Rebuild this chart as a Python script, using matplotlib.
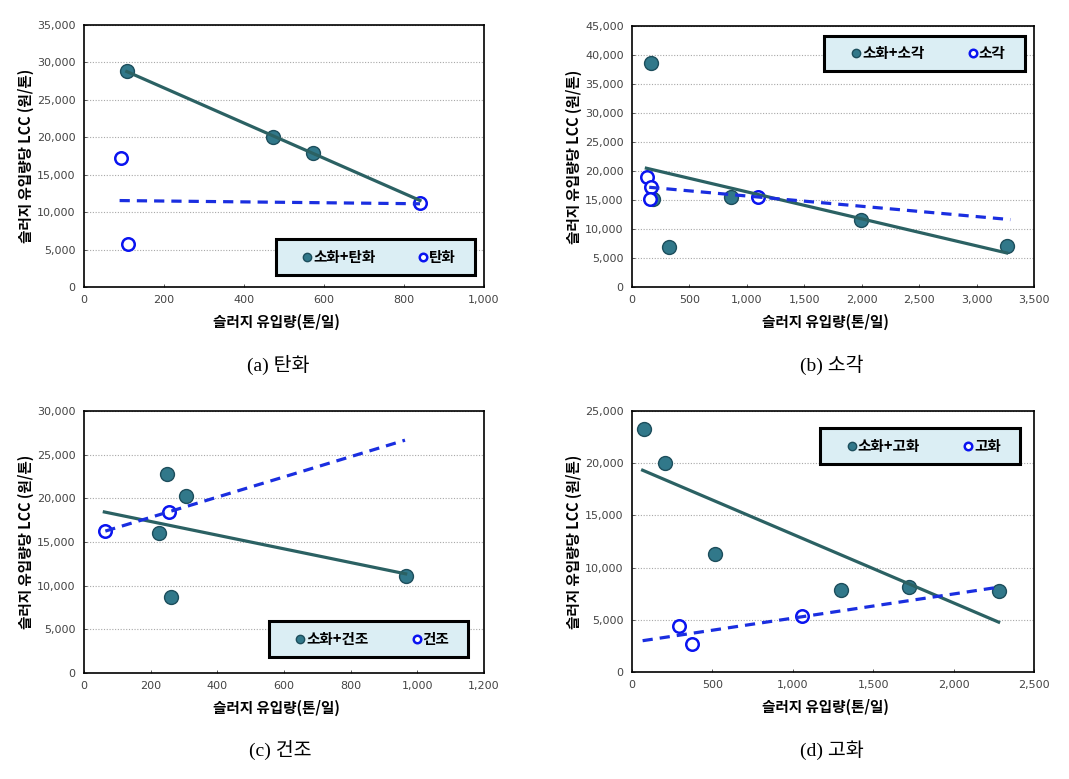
import numpy as np
import matplotlib
matplotlib.use("Agg")
import matplotlib.pyplot as plt
from matplotlib.patches import Rectangle
from matplotlib.ticker import FuncFormatter, MultipleLocator

# ---------------- data ----------------
captions = ["(a) 탄화", "(b) 소각", "(c) 건조", "(d) 고화"]
filled_labels = ["소화+탄화", "소화+소각", "소화+건조", "소화+고화"]
open_labels = ["탄화", "소각", "건조", "고화"]

# (a) 탄화
a_filled_x = [107, 473, 573]
a_filled_y = [28800, 20100, 17900]
a_open_x = [93, 110, 840]
a_open_y = [17200, 5750, 11250]
a_filled_trend_range = [107, 840]
a_open_trend_range = [89, 840]

# (b) 소각
b_filled_x = [163, 183, 326, 858, 1990, 3262]
b_filled_y = [38600, 15100, 6950, 15550, 11550, 7060]
b_open_x = [134, 163, 154, 1099]
b_open_y = [19000, 17300, 15250, 15550]
b_filled_trend_range = [125, 3262]
b_open_trend_range = [150, 3294]

# (c) 건조
c_filled_x = [250, 306, 226, 261, 965]
c_filled_y = [22800, 20250, 16000, 8650, 11150]
c_open_x = [64, 254]
c_open_y = [16250, 18450]
c_filled_trend_range = [61, 965]
c_open_trend_range = [64, 963]

# (d) 고화
d_filled_x = [75, 208, 515, 1302, 1721, 2284]
d_filled_y = [23300, 20050, 11350, 7900, 8100, 7750]
d_open_x = [295, 372, 1059]
d_open_y = [4450, 2680, 5400]
d_filled_trend_range = [66, 2280]
d_open_trend_range = [66, 2284]

x_limits = [(0, 1000), (0, 3500), (0, 1200), (0, 2500)]
x_steps = [200, 500, 200, 500]
y_limits = [(0, 35000), (0, 45000), (0, 30000), (0, 25000)]
y_step = 5000

xlabel = "슬러지 유입량(톤/일)"
ylabel = "슬러지 유입량당 LCC (원/톤)"

panels = [
    (a_filled_x, a_filled_y, a_open_x, a_open_y, a_filled_trend_range, a_open_trend_range),
    (b_filled_x, b_filled_y, b_open_x, b_open_y, b_filled_trend_range, b_open_trend_range),
    (c_filled_x, c_filled_y, c_open_x, c_open_y, c_filled_trend_range, c_open_trend_range),
    (d_filled_x, d_filled_y, d_open_x, d_open_y, d_filled_trend_range, d_open_trend_range),
]

# ---------------- layout / style ----------------
plt.rcParams['font.family'] = ['Noto Sans CJK KR', 'DejaVu Sans']
W, H = 1069, 779
fig = plt.figure(figsize=(W / 100, H / 100), dpi=100)

# axes boxes in pixels: left, top, right, bottom
boxes = [(84, 25, 484, 287), (632, 26, 1034, 287),
         (84, 411, 484, 673), (632, 411, 1034, 672)]
# legend rectangles in axes fraction: x0, y0, x1, y1
leg_boxes = [(0.48, 0.046, 0.977, 0.183), (0.478, 0.828, 0.978, 0.962),
             (0.463, 0.061, 0.96, 0.198), (0.468, 0.797, 0.965, 0.935)]
caption_pos = [(278, 365), (832, 365), (280, 750), (832, 750)]

FILL_C = "#31788a"
EDGE_C = "#1d4e5c"
SOLID_C = "#2b6163"
OPEN_C = "#0a14f0"
DASH_C = "#1a2ee0"

fmt = FuncFormatter(lambda v, p: f"{int(round(v)):,}")

for i, (fx, fy, ox, oy, ftr, otr) in enumerate(panels):
    l, t, r, b = boxes[i]
    ax = fig.add_axes([l / W, (H - b) / H, (r - l) / W, (b - t) / H])

    hf, = ax.plot(fx, fy, 'o', ms=10, mfc=FILL_C, mec=EDGE_C, mew=1.0,
                  ls='none', zorder=3, label=filled_labels[i])
    ho, = ax.plot(ox, oy, 'o', ms=9, mfc='white', mec=OPEN_C, mew=1.8,
                  ls='none', zorder=4, label=open_labels[i])

    # linear trend lines fitted from the data
    pf = np.polyfit(fx, fy, 1)
    xs = np.array(ftr, dtype=float)
    ax.plot(xs, np.polyval(pf, xs), '-', color=SOLID_C, lw=2.3, zorder=5)
    po = np.polyfit(ox, oy, 1)
    xs2 = np.array(otr, dtype=float)
    ax.plot(xs2, np.polyval(po, xs2), color=DASH_C, lw=2.3,
            ls=(0, (3.2, 2.2)), zorder=5)

    ax.set_xlim(*x_limits[i])
    ax.set_ylim(*y_limits[i])
    ax.xaxis.set_major_locator(MultipleLocator(x_steps[i]))
    ax.yaxis.set_major_locator(MultipleLocator(y_step))
    ax.xaxis.set_major_formatter(fmt)
    ax.yaxis.set_major_formatter(fmt)
    ax.tick_params(axis='both', labelsize=8, colors='#444444', direction='in',
                   length=2.5, width=0.6, pad=6)
    for lab in ax.get_xticklabels() + ax.get_yticklabels():
        lab.set_family(['DejaVu Sans'])
    ax.grid(axis='y', color='#a8a8a8', ls=(0, (1, 1.5)), lw=0.8, zorder=0)
    ax.set_axisbelow(True)
    for s in ax.spines.values():
        s.set_color('black')
        s.set_linewidth(1.2)

    ax.set_xlabel(xlabel, fontsize=10.5, fontweight='bold')
    ax.set_ylabel(ylabel, fontsize=10.5, fontweight='bold')
    ax.xaxis.set_label_coords(0.48, -0.103)
    ax.yaxis.set_label_coords(-0.125, 0.5)

    # legend box
    x0, y0, x1, y1 = leg_boxes[i]
    ax.add_patch(Rectangle((x0, y0), x1 - x0, y1 - y0, transform=ax.transAxes,
                           facecolor='#dbeef4', edgecolor='black', lw=2.2,
                           zorder=6, clip_on=False))
    leg = ax.legend(handles=[hf, ho], loc='center',
                    bbox_to_anchor=((x0 + x1) / 2 + 0.01, (y0 + y1) / 2),
                    ncol=2, frameon=False, markerscale=0.6, handlelength=0.6,
                    handletextpad=0.1, columnspacing=3.0,
                    prop={'size': 10.5, 'weight': 'bold'})
    leg.set_zorder(7)

    cx, cy = caption_pos[i]
    fig.text(cx / W, (H - cy) / H, captions[i], ha='center', va='center',
             fontsize=14, family=['Liberation Serif', 'Noto Sans CJK KR'])

fig.savefig("out.png", dpi=100, facecolor='white')
